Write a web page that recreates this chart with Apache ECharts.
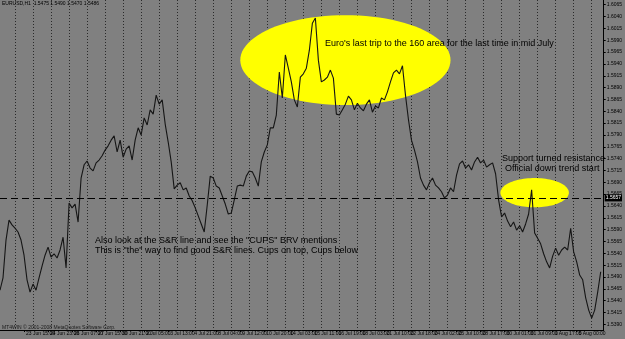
<!DOCTYPE html>
<html>
<head>
<meta charset="utf-8">
<script src="https://cdn.jsdelivr.net/npm/echarts/dist/echarts.min.js"></script>
<style>
html,body{margin:0;padding:0;background:#808080;}
#chart{width:625px;height:339px;}
</style>
</head>
<body>
<div id="chart"></div>
<script>
// ---- data ----
const symbolLine = 'EURUSD,H1  1.5475 1.5490 1.5470 1.5486';
const timeLabels = [
  '20 Jun 2008','23 Jun 15:00','24 Jun 23:00','26 Jun 07:00','27 Jun 15:00','30 Jun 21:00',
  '2 Jul 05:00','3 Jul 13:00','4 Jul 21:00','8 Jul 04:00','9 Jul 12:00','10 Jul 20:00',
  '14 Jul 03:00','15 Jul 11:00','16 Jul 19:00','18 Jul 03:00','21 Jul 10:00','22 Jul 18:00',
  '24 Jul 02:00','25 Jul 10:00','28 Jul 17:00','30 Jul 01:00','31 Jul 09:00','1 Aug 17:00',
  '5 Aug 00:00','6 Aug 08:00'
];
const priceTicks = [
  1.5390,1.5415,1.5440,1.5465,1.5490,1.5515,1.5540,1.5565,1.5590,1.5615,1.5640,1.5665,1.5690,1.5715,
  1.5740,1.5765,1.5790,1.5815,1.5840,1.5865,1.5890,1.5915,1.5940,1.5965,1.5990,1.6015,1.6040,1.6065
];
const closePrices = [
  1.5462,1.5488,1.5568,1.5610,1.5600,1.5593,1.5585,1.5568,1.5536,1.5484,
  1.5458,1.5475,1.5462,1.5488,1.5513,1.5536,1.5553,1.5532,1.5539,1.5530,
  1.5547,1.5574,1.5509,1.5646,1.5636,1.5644,1.5606,1.5699,1.5727,1.5735,
  1.5720,1.5714,1.5731,1.5737,1.5746,1.5758,1.5767,1.5779,1.5788,1.5754,
  1.5779,1.5743,1.5760,1.5767,1.5737,1.5779,1.5805,1.5790,1.5826,1.5811,
  1.5843,1.5834,1.5874,1.5855,1.5864,1.5813,1.5775,1.5733,1.5676,1.5684,
  1.5689,1.5674,1.5678,1.5661,1.5651,1.5636,1.5619,1.5602,1.5585,1.5642,
  1.5703,1.5699,1.5682,1.5678,1.5661,1.5644,1.5623,1.5625,1.5653,1.5682,
  1.5684,1.5682,1.5703,1.5714,1.5712,1.5699,1.5682,1.5733,1.5754,1.5769,
  1.5805,1.5805,1.5832,1.5923,1.5868,1.5959,1.5931,1.5902,1.5864,1.5849,
  1.5912,1.5919,1.5931,1.5969,1.6026,1.6037,1.5948,1.5902,1.5906,1.5912,
  1.5927,1.5910,1.5834,1.5832,1.5843,1.5855,1.5872,1.5864,1.5843,1.5857,
  1.5847,1.5841,1.5855,1.5864,1.5838,1.5851,1.5847,1.5868,1.5864,1.5881,
  1.5902,1.5921,1.5927,1.5919,1.5936,1.5874,1.5822,1.5779,1.5758,1.5733,
  1.5699,1.5684,1.5674,1.5689,1.5699,1.5684,1.5678,1.5670,1.5657,1.5663,
  1.5678,1.5670,1.5705,1.5729,1.5735,1.5720,1.5727,1.5716,1.5733,1.5743,
  1.5731,1.5737,1.5722,1.5727,1.5731,1.5708,1.5653,1.5617,1.5625,1.5608,
  1.5596,1.5606,1.5589,1.5598,1.5585,1.5602,1.5623,1.5674,1.5583,1.5572,
  1.5560,1.5539,1.5522,1.5509,1.5534,1.5551,1.5536,1.5547,1.5553,1.5547,
  1.5593,1.5543,1.5522,1.5494,1.5484,1.5446,1.5420,1.5403,1.5420,1.5458,
  1.5501
];
const srLevel = 1.5657;
// annotation ellipses: [center sample index, center price, half-width in samples, half-height in price]
const ellipses = [
  [115, 1.5948, 35, 0.0095],
  [178, 1.5668, 11.4, 0.0031]
];

// ---- layout constants ----
const SAMPLES = 202;          // sample slots on the time axis (4 hours each)
const LABEL_EVERY = 8;        // 32 bars
const GRID_EVERY = 6;         // 24 bars (daily)
const GRID_OFFSET = 5;

const categories = [];
for (let i = 0; i < SAMPLES; i++) categories.push(String(i));

const FONT = '"Liberation Sans", Arial, sans-serif';

const chart = echarts.init(document.getElementById('chart'), null, {renderer: 'canvas'});
chart.setOption({
  animation: false,
  backgroundColor: '#808080',
  grid: {left: 0, right: 16, top: 0, bottom: 9, containLabel: false},
  xAxis: {
    type: 'category',
    data: categories,
    boundaryGap: false,
    axisLine: {show: true, lineStyle: {color: '#000', width: 1}},
    axisTick: {show: true, length: 2, lineStyle: {color: '#000'},
      interval: function (i) { return i % LABEL_EVERY === 0; }},
    axisLabel: {
      interval: function (i) { return i % LABEL_EVERY === 0; },
      formatter: function (v, i) { return i % LABEL_EVERY === 0 ? (timeLabels[i / LABEL_EVERY] || '') : ''; },
      fontSize: 5, color: '#000', fontFamily: FONT, align: 'left', margin: 1, padding: [0, 0, 0, 2]
    },
    splitLine: {
      show: true,
      interval: function (i) { return i % GRID_EVERY === GRID_OFFSET; },
      lineStyle: {color: '#2a2a2a', type: [1, 2], width: 1}
    }
  },
  yAxis: {
    type: 'value',
    position: 'right',
    min: 1.5378,
    max: 1.6075,
    axisLine: {show: true, lineStyle: {color: '#000', width: 1}},
    axisTick: {show: true, length: 2, customValues: priceTicks, lineStyle: {color: '#000'}},
    axisLabel: {
      customValues: priceTicks,
      formatter: function (v) { return v.toFixed(4); },
      fontSize: 5, color: '#000', fontFamily: FONT, margin: 3
    },
    splitLine: {show: false}
  },
  series: [
    {
      type: 'custom',
      z: 1,
      silent: true,
      clip: false,
      data: ellipses,
      encode: {x: 0, y: 1},
      renderItem: function (params, api) {
        const cx = api.value(0), cy = api.value(1), rx = api.value(2), ry = api.value(3);
        const c = api.coord([cx, cy]);
        const c1 = api.coord([cx + 1, cy]);
        const c2 = api.coord([cx, cy + ry]);
        const rxPx = rx * (c1[0] - c[0]);
        const ryPx = c[1] - c2[1];
        const pts = [];
        for (let k = 0; k < 96; k++) {
          const a = k / 96 * Math.PI * 2;
          pts.push([c[0] + rxPx * Math.cos(a), c[1] + ryPx * Math.sin(a)]);
        }
        return {type: 'polygon', shape: {points: pts}, style: {fill: '#ffff00', stroke: null}};
      }
    },
    {
      type: 'line',
      z: 3,
      data: closePrices,
      showSymbol: false,
      symbol: 'none',
      silent: true,
      lineStyle: {color: '#151515', width: 1.1},
      markLine: {
        silent: true,
        symbol: ['none', 'none'],
        lineStyle: {color: '#000', type: [7, 4], width: 1},
        label: {
          show: true, position: 'end', distance: 1,
          formatter: function () { return srLevel.toFixed(4); },
          fontSize: 5, color: '#fff', backgroundColor: '#000', padding: [1, 1], fontFamily: FONT
        },
        emphasis: {disabled: true},
        data: [[{coord: ['0', srLevel]}, {coord: [String(SAMPLES - 1), srLevel]}]]
      }
    }
  ],
  graphic: [
    {type: 'text', left: 2, top: 1, z: 10, style: {text: symbolLine, font: '5px ' + FONT, fill: '#000'}},
    {type: 'text', left: 2, top: 325, z: 10, style: {text: 'MT4WIN © 2001-2008 MetaQuotes Software Corp.', font: '5px ' + FONT, fill: '#1a1a1a'}},
    {type: 'text', left: 325, top: 39, z: 10, style: {text: "Euro's last trip to the 160 area for the last time in mid July", font: '9px ' + FONT, fill: '#000'}},
    {type: 'text', left: 502, top: 154, z: 10, style: {text: 'Support turned resistance', font: '9px ' + FONT, fill: '#000'}},
    {type: 'text', left: 505, top: 164, z: 10, style: {text: 'Official down trend start', font: '9px ' + FONT, fill: '#000'}},
    {type: 'text', left: 95, top: 236, z: 10, style: {text: 'Also look at the S&R line and see the "CUPS" BRV mentions', font: '9px ' + FONT, fill: '#000'}},
    {type: 'text', left: 95, top: 246, z: 10, style: {text: 'This is "the" way to find good S&R lines. Cups on top, Cups below', font: '9px ' + FONT, fill: '#000'}}
  ]
});
</script>
</body>
</html>
